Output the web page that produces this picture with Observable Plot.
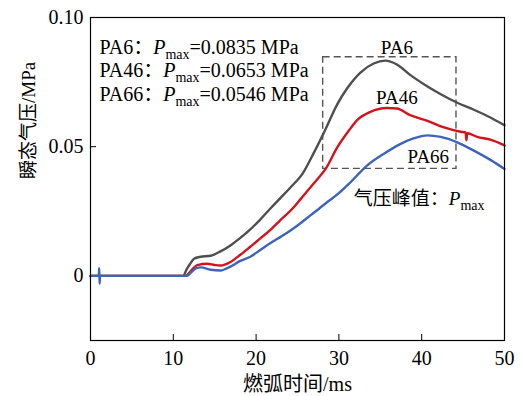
<!DOCTYPE html>
<html><head><meta charset="utf-8">
<script src="https://cdn.jsdelivr.net/npm/d3@7"></script>
<script src="https://cdn.jsdelivr.net/npm/@observablehq/plot@0.6"></script>
<style>body{margin:0;background:#fff}</style>
</head><body><div id="chart"></div>
<script>
// Arc time (ms) and transient pressure (MPa)
const pa6Time  = [0, 11.2, 11.6, 12.0, 12.5, 13.3, 14.5, 15.7, 16.9, 18.1, 19.3, 20.5, 21.7, 22.9, 24.2, 25.6, 27.0, 28.3, 29.8, 31.0, 32.6, 34.2, 35.6, 37.0, 38.6, 40.7, 42.3, 44.3, 46.3, 48.3, 50];
const pa6Value = [0, 0, 0.0025, 0.0045, 0.0066, 0.0074, 0.0078, 0.0095, 0.0118, 0.0147, 0.0180, 0.0218, 0.0260, 0.0300, 0.0344, 0.0395, 0.0478, 0.0562, 0.0664, 0.0726, 0.0787, 0.0822, 0.0833, 0.0818, 0.0778, 0.0733, 0.0703, 0.0670, 0.0643, 0.0613, 0.0583];

const pa46Time  = [0, 11.5, 12.0, 12.9, 14.1, 15.0, 15.7, 16.9, 18.1, 19.3, 20.5, 21.7, 22.9, 24.2, 25.4, 26.6, 27.5, 28.4, 29.8, 31.2, 32.2, 33.8, 35.8, 37.0, 38.6, 40.7, 42.7, 44.7, 45.3, 45.4, 45.5, 46.7, 48.3, 50];
const pa46Value = [0, 0, 0.0015, 0.0042, 0.0047, 0.0042, 0.0040, 0.0054, 0.0082, 0.0113, 0.0145, 0.0177, 0.0215, 0.0254, 0.0298, 0.0344, 0.0378, 0.0414, 0.0497, 0.0562, 0.0603, 0.0635, 0.0650, 0.0648, 0.0622, 0.0600, 0.0575, 0.0558, 0.0555, 0.0525, 0.0552, 0.0538, 0.0527, 0.0505];

const pa66Time  = [0, 1.0, 1.05, 1.1, 1.15, 11.6, 12.1, 12.8, 13.3, 14.5, 15.7, 16.9, 18.1, 19.3, 20.5, 21.7, 23.0, 24.2, 25.4, 26.6, 27.6, 28.6, 30.0, 31.2, 33.4, 35.4, 37.4, 39.0, 40.7, 42.3, 44.3, 46.3, 48.3, 50];
const pa66Value = [0, 0, 0.003, -0.003, 0, 0, 0.0012, 0.0030, 0.0033, 0.0024, 0.0021, 0.0036, 0.0058, 0.0074, 0.0100, 0.0126, 0.0152, 0.0177, 0.0205, 0.0235, 0.0260, 0.0286, 0.0320, 0.0356, 0.0427, 0.0472, 0.0510, 0.0532, 0.0544, 0.0538, 0.0517, 0.0485, 0.0449, 0.0414];

const materials = ["PA6", "PA46", "PA66"];
const pmax = [0.0835, 0.0653, 0.0546];
const xTicks = [0, 10, 20, 30, 40, 50];
const yTicks = [0, 0.05, 0.10];
const xLabel = "燃弧时间/ms";
const yLabel = "瞬态气压/MPa";
const peakLabel = "气压峰值：P_max";

const colors = ["#4f4f4f", "#d3131d", "#3e64ba"];
const fontFamily = "'Liberation Serif','Times New Roman','Noto Sans CJK SC',serif";

const toRows = (name, t, v) => t.map((x, i) => ({series: name, t: x, p: v[i]}));
const rows = [
  ...toRows("PA6", pa6Time, pa6Value),
  ...toRows("PA46", pa46Time, pa46Value),
  ...toRows("PA66", pa66Time, pa66Value)
];
const box = [{x1: 28.1, x2: 44.2, y1: 0.0414, y2: 0.0846}];

const chart = Plot.plot({
  width: 525, height: 396,
  marginLeft: 90, marginRight: 21, marginTop: 17, marginBottom: 56,
  style: {fontFamily, fontSize: "20px", color: "#000", background: "#fff", overflow: "visible"},
  x: {domain: [0, 50]},
  y: {domain: [-0.025, 0.1]},
  color: {domain: materials, range: colors},
  marks: [
    Plot.axisX({ticks: xTicks, tickSize: -6, tickPadding: 16, label: null, fontSize: 20}),
    Plot.axisY({ticks: yTicks, tickSize: -6, tickPadding: 13, label: null, fontSize: 20,
      tickFormat: d => d === 0 ? "0" : d.toFixed(2)}),
    Plot.rect(box, {x1: "x1", x2: "x2", y1: "y1", y2: "y2", fill: "none", stroke: "#555",
      strokeDasharray: "7,4", strokeWidth: 1.4}),
    Plot.line(rows, {x: "t", y: "p", z: "series", stroke: "series", strokeWidth: 2.4, curve: "monotone-x"}),
    Plot.frame({stroke: "#000", strokeWidth: 1.2}),
    ...materials.map((m, i) => Plot.text([m], {frameAnchor: "top-left", dx: 9, dy: 30 + i * 23.5,
      text: d => `${d}：P_max=${pmax[i].toFixed(4)} MPa`, textAnchor: "start", lineAnchor: "middle",
      fontSize: 20, fill: "#000"})),
    Plot.text(materials, {x: [37.0, 37.0, 40.8], y: [0.0882, 0.0690, 0.0459], text: d => d,
      textAnchor: "middle", lineAnchor: "middle", fontSize: 19, fill: "#000"}),
    Plot.text([peakLabel], {x: [31.8], y: [0.0299], text: d => d, textAnchor: "start",
      lineAnchor: "middle", fontSize: 19, fill: "#000"}),
    Plot.text([xLabel], {frameAnchor: "bottom", dy: 44, text: d => d, lineAnchor: "middle", fontSize: 20, fill: "#000"}),
    Plot.text([yLabel], {frameAnchor: "left", dx: -62, rotate: -90, text: d => d, lineAnchor: "middle", fontSize: 19, fill: "#000"})
  ]
});

d3.select(chart).selectAll("text").each(function() {
  const s = this.textContent;
  if (!s.includes("P_max")) return;
  const [pre, post] = s.split("P_max");
  const el = d3.select(this);
  el.text(null);
  el.append("tspan").text(pre);
  el.append("tspan").attr("font-style", "italic").text("P");
  el.append("tspan").attr("font-size", "14px").attr("dy", "5").text("max");
  if (post) el.append("tspan").attr("dy", "-5").text(post);
});

document.getElementById("chart").append(chart);
</script>
</body></html>
